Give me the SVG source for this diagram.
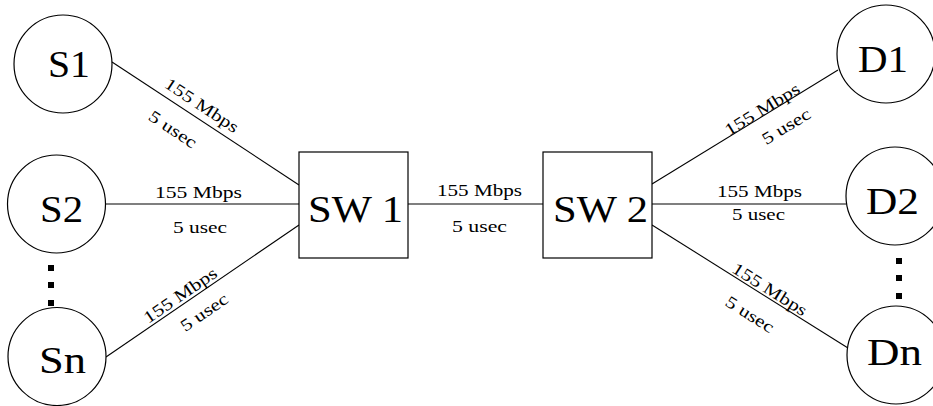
<svg xmlns="http://www.w3.org/2000/svg" width="933" height="406" viewBox="0 0 933 406">
<style>
.node{fill:#fff;stroke:#000;stroke-width:1.2}
.big{font-family:"Liberation Serif","Times New Roman",serif;font-size:38px;fill:#000}
.lbl{font-family:"Liberation Serif","Times New Roman",serif;font-size:17px;fill:#000;text-anchor:middle}
.ln{stroke:#000;stroke-width:1.1;fill:none}
.dot{fill:#000}
</style>
<rect width="933" height="406" fill="#fff"/>
<g id="connectors">
<line class="ln" x1="112" y1="62" x2="299" y2="185"/>
<line class="ln" x1="106" y1="204" x2="299" y2="204"/>
<line class="ln" x1="106" y1="357" x2="299" y2="225"/>
<line class="ln" x1="408" y1="204" x2="543" y2="204"/>
<line class="ln" x1="652" y1="184" x2="838" y2="70"/>
<line class="ln" x1="652" y1="204" x2="846" y2="204"/>
<line class="ln" x1="652" y1="225" x2="848" y2="348"/>
<text class="lbl" textLength="85" lengthAdjust="spacingAndGlyphs" transform="translate(202,105) rotate(33.5)" y="6">155 Mbps</text>
<text class="lbl" textLength="54" lengthAdjust="spacingAndGlyphs" transform="translate(173,129) rotate(33.5)" y="6">5 usec</text>
<text class="lbl" x="198.5" y="198" textLength="87" lengthAdjust="spacingAndGlyphs">155 Mbps</text>
<text class="lbl" x="200" y="233" textLength="54" lengthAdjust="spacingAndGlyphs">5 usec</text>
<text class="lbl" textLength="85" lengthAdjust="spacingAndGlyphs" transform="translate(180,295) rotate(-34.5)" y="6">155 Mbps</text>
<text class="lbl" textLength="54" lengthAdjust="spacingAndGlyphs" transform="translate(204,312) rotate(-34.5)" y="6">5 usec</text>
<text class="lbl" x="479.5" y="196" textLength="85" lengthAdjust="spacingAndGlyphs">155 Mbps</text>
<text class="lbl" x="479.5" y="232" textLength="55" lengthAdjust="spacingAndGlyphs">5 usec</text>
<text class="lbl" textLength="85" lengthAdjust="spacingAndGlyphs" transform="translate(762,109) rotate(-31.5)" y="6">155 Mbps</text>
<text class="lbl" textLength="54" lengthAdjust="spacingAndGlyphs" transform="translate(786,126) rotate(-31.5)" y="6">5 usec</text>
<text class="lbl" x="759.5" y="197" textLength="85" lengthAdjust="spacingAndGlyphs">155 Mbps</text>
<text class="lbl" x="758.5" y="220" textLength="53" lengthAdjust="spacingAndGlyphs">5 usec</text>
<text class="lbl" textLength="85" lengthAdjust="spacingAndGlyphs" transform="translate(770,289) rotate(32.2)" y="6">155 Mbps</text>
<text class="lbl" textLength="54" lengthAdjust="spacingAndGlyphs" transform="translate(750,314) rotate(32.2)" y="6">5 usec</text>
</g>
<g id="S1"><circle class="node" cx="63" cy="64" r="49"/><text class="big" x="48" y="77" textLength="42" lengthAdjust="spacingAndGlyphs">S1</text></g>
<g id="S2"><circle class="node" cx="56.5" cy="204" r="49"/><text class="big" x="40" y="222" textLength="43" lengthAdjust="spacingAndGlyphs">S2</text></g>
<g id="Sn"><circle class="node" cx="57" cy="356.5" r="49"/><text class="big" x="39" y="373" textLength="47" lengthAdjust="spacingAndGlyphs">Sn</text></g>
<g id="S-dots"><rect class="dot" x="48" y="265" width="6" height="6"/><rect class="dot" x="48" y="282" width="6" height="6"/><rect class="dot" x="48" y="300" width="6" height="6"/></g>
<g id="SW1"><rect class="node" x="299" y="152" width="109" height="106"/><text class="big" x="308" y="222" textLength="95" lengthAdjust="spacingAndGlyphs">SW 1</text></g>
<g id="SW2"><rect class="node" x="543" y="152" width="109" height="106"/><text class="big" x="553" y="222" textLength="95" lengthAdjust="spacingAndGlyphs">SW 2</text></g>
<g id="D1"><circle class="node" cx="886" cy="54" r="49"/><text class="big" x="858" y="72" textLength="50" lengthAdjust="spacingAndGlyphs">D1</text></g>
<g id="D2"><circle class="node" cx="895" cy="196" r="49"/><text class="big" x="866" y="214" textLength="53" lengthAdjust="spacingAndGlyphs">D2</text></g>
<g id="Dn"><circle class="node" cx="896" cy="355" r="49"/><text class="big" x="867" y="365" textLength="55" lengthAdjust="spacingAndGlyphs">Dn</text></g>
<g id="D-dots"><rect class="dot" x="896" y="258" width="6" height="6"/><rect class="dot" x="896" y="275" width="6" height="6"/><rect class="dot" x="896" y="293" width="6" height="6"/></g>
</svg>
